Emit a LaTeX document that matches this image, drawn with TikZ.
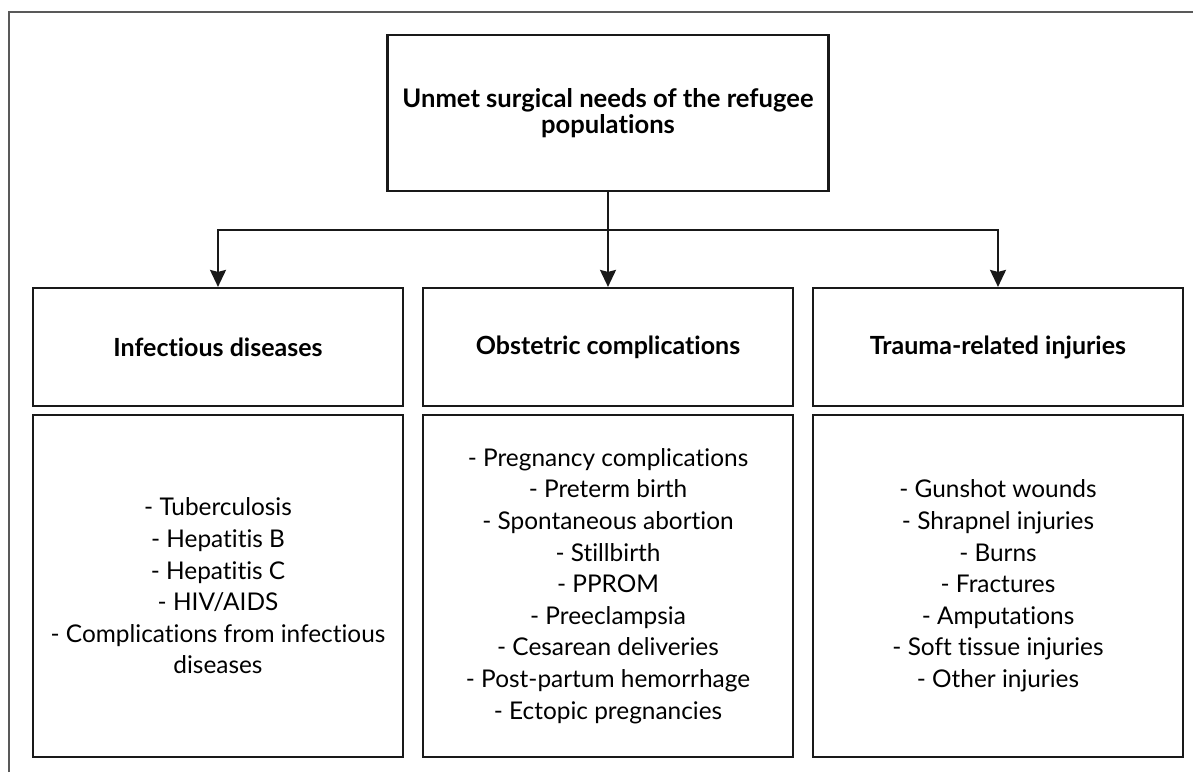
\documentclass[tikz,border=0pt]{standalone}
\usepackage{fontspec}
\setmainfont{Lato}[Ligatures = NoCommon]
\usetikzlibrary{arrows.meta}

\begin{document}
\begin{tikzpicture}[x = 0.5pt, y = -0.5pt,
	box/.style = {draw = black!90, line width = 1.1pt, align = center,
		inner sep = 0pt, fill = white},
	topbox/.style = {box, minimum width = 220.5pt, minimum height = 78pt,
		font = \bfseries\fontsize{12.8}{13}\selectfont},
	headbox/.style = {box, minimum width = 185pt, minimum height = 59pt,
		font = \bfseries\fontsize{12.5}{15}\selectfont},
	listbox/.style = {box, minimum width = 185pt, minimum height = 171pt,
		font = \fontsize{12.2}{15.8}\selectfont},
	link/.style = {draw = black!90, line width = 0.9pt},
	arrow/.style = {link, -{Stealth[length = 8.5pt, width = 8pt, inset = 1pt]}}]
\useasboundingbox (0,0) rectangle (1193,772);
% outer frame, cut at right and bottom
\draw [black!65, line width = 1pt] (9,772) -- (9,12) -- (1193,12);

\node [topbox] (unmet) at (608,113)
{Unmet surgical needs of the refugee\\populations};

\node [headbox] (infect) at (218,347) {Infectious diseases};
\node [headbox] (obstet) at (608,347) {Obstetric complications};
\node [headbox] (trauma) at (998,347) {Trauma-related injuries};

\node [listbox] (infectlist) at (218,586)
{- Tuberculosis\\- Hepatitis B\\- Hepatitis C\\- HIV/AIDS\\
	- Complications from infectious\\diseases};
\node [listbox] (obstetlist) at (608,586)
{- Pregnancy complications\\- Preterm birth\\- Spontaneous abortion\\
	- Stillbirth\\- PPROM\\- Preeclampsia\\- Cesarean deliveries\\
	- Post-partum hemorrhage\\- Ectopic pregnancies};
\node [listbox] (traumalist) at (998,586)
{- Gunshot wounds\\- Shrapnel injuries\\- Burns\\- Fractures\\
	- Amputations\\- Soft tissue injuries\\- Other injuries};

\coordinate (split) at (608,230);
\draw [arrow] (unmet.south) -- (obstet.north);
\draw [arrow] (split) -| (infect.north);
\draw [arrow] (split) -| (trauma.north);
\end{tikzpicture}
\end{document}
